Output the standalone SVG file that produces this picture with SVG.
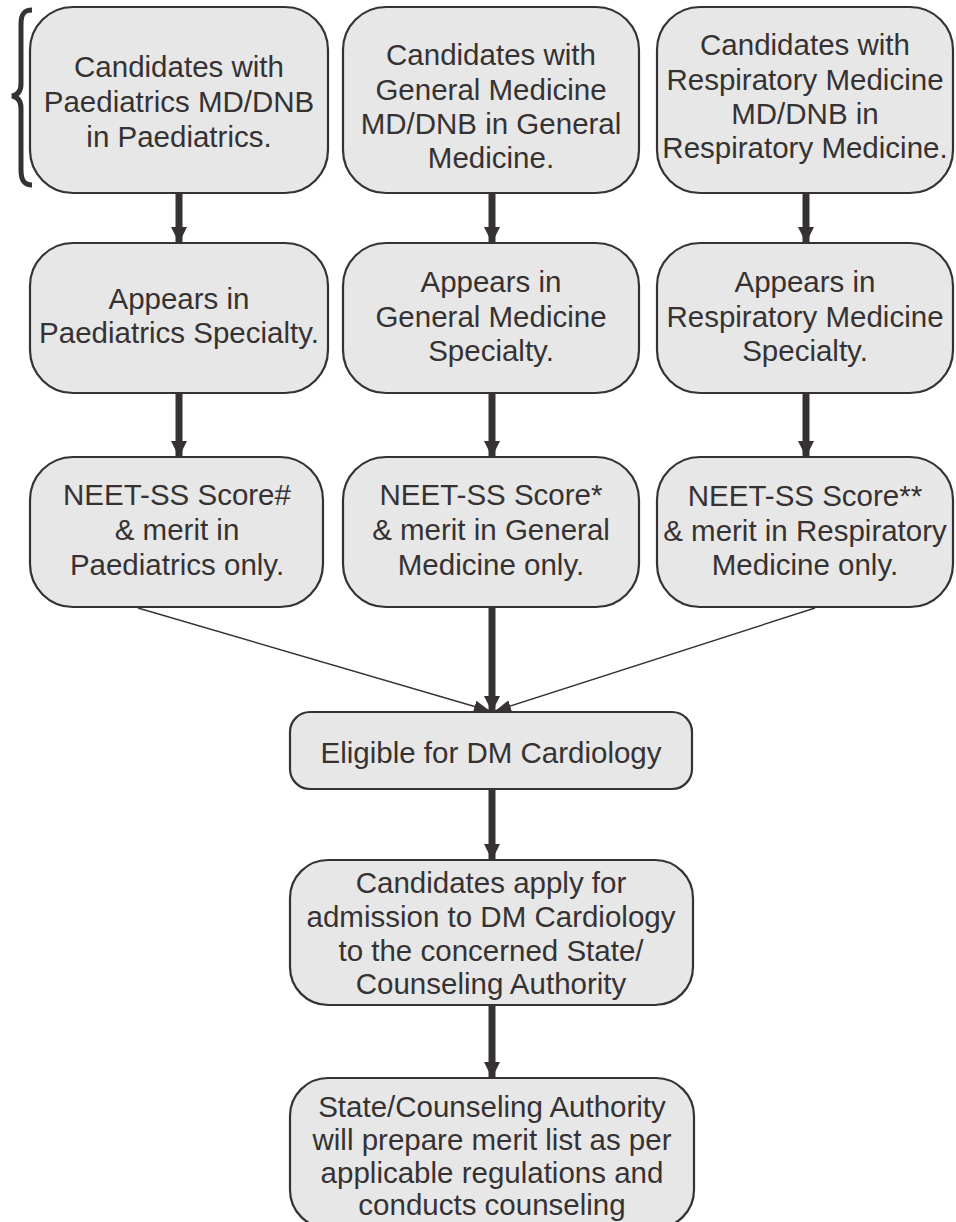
<svg xmlns="http://www.w3.org/2000/svg" width="956" height="1222" viewBox="0 0 956 1222">
<style>
.box{fill:#e6e7e6;stroke:#363233;stroke-width:2.2}
.t{font-family:"Liberation Sans",Arial,sans-serif;font-size:29.5px;fill:#363233;text-anchor:middle}
.thick{stroke:#363233;stroke-width:7;fill:none}
.thin{stroke:#363233;stroke-width:1.4;fill:none}
</style>
<defs>
<marker id="big" markerUnits="userSpaceOnUse" markerWidth="16" markerHeight="18" refX="16" refY="8" orient="auto" viewBox="0 0 16 16">
<path d="M0,0 L16,8 L0,16 Z" fill="#363233"/>
</marker>
<marker id="small" markerUnits="userSpaceOnUse" markerWidth="16" markerHeight="12" refX="16" refY="6" orient="auto" viewBox="0 0 16 12">
<path d="M0,0 L16,6 L0,12 Z" fill="#363233"/>
</marker>
</defs>
<rect width="956" height="1222" fill="#ffffff"/>

<g id="brace">
<path d="M32,10 C24,10 21,14 21,24 L21,84 C21,92 17,95 12,96 C17,97 21,100 21,108 L21,170 C21,180 24,185 32,185" fill="none" stroke="#363233" stroke-width="5"/>
</g>

<g id="connectors">
<line class="thick" x1="179" y1="193" x2="179" y2="243" marker-end="url(#big)"/>
<line class="thick" x1="492" y1="193" x2="492" y2="243" marker-end="url(#big)"/>
<line class="thick" x1="806" y1="193" x2="806" y2="243" marker-end="url(#big)"/>
<line class="thick" x1="179" y1="393" x2="179" y2="457" marker-end="url(#big)"/>
<line class="thick" x1="492" y1="393" x2="492" y2="457" marker-end="url(#big)"/>
<line class="thick" x1="806" y1="393" x2="806" y2="457" marker-end="url(#big)"/>
<line class="thick" x1="492" y1="607" x2="492" y2="712" marker-end="url(#big)"/>
<line class="thin" x1="138" y1="608" x2="490" y2="711" marker-end="url(#small)"/>
<line class="thin" x1="815" y1="608" x2="495" y2="711" marker-end="url(#small)"/>
<line class="thick" x1="492" y1="789" x2="492" y2="860" marker-end="url(#big)"/>
<line class="thick" x1="492" y1="1005" x2="492" y2="1078" marker-end="url(#big)"/>
</g>

<g id="n1">
<rect class="box" x="30" y="7" width="298" height="186" rx="43"/>
<text class="t" x="179" y="77">Candidates with</text>
<text class="t" x="179" y="112">Paediatrics MD/DNB</text>
<text class="t" x="179" y="147">in Paediatrics.</text>
</g>
<g id="n2">
<rect class="box" x="343" y="7" width="296" height="186" rx="43"/>
<text class="t" x="491" y="65">Candidates with</text>
<text class="t" x="491" y="100">General Medicine</text>
<text class="t" x="491" y="134">MD/DNB in General</text>
<text class="t" x="491" y="168">Medicine.</text>
</g>
<g id="n3">
<rect class="box" x="657" y="7" width="296" height="186" rx="43"/>
<text class="t" x="805" y="55">Candidates with</text>
<text class="t" x="805" y="90">Respiratory Medicine</text>
<text class="t" x="805" y="124">MD/DNB in</text>
<text class="t" x="805" y="158">Respiratory Medicine.</text>
</g>

<g id="n4">
<rect class="box" x="30" y="243" width="298" height="150" rx="43"/>
<text class="t" x="179" y="309">Appears in</text>
<text class="t" x="179" y="343">Paediatrics Specialty.</text>
</g>
<g id="n5">
<rect class="box" x="343" y="243" width="296" height="150" rx="43"/>
<text class="t" x="491" y="292">Appears in</text>
<text class="t" x="491" y="327">General Medicine</text>
<text class="t" x="491" y="361">Specialty.</text>
</g>
<g id="n6">
<rect class="box" x="657" y="243" width="296" height="150" rx="43"/>
<text class="t" x="805" y="292">Appears in</text>
<text class="t" x="805" y="327">Respiratory Medicine</text>
<text class="t" x="805" y="361">Specialty.</text>
</g>

<g id="n7">
<rect class="box" x="30" y="457" width="293" height="150" rx="43"/>
<text class="t" x="177" y="505">NEET-SS Score#</text>
<text class="t" x="177" y="540">&amp; merit in</text>
<text class="t" x="177" y="575">Paediatrics only.</text>
</g>
<g id="n8">
<rect class="box" x="343" y="457" width="296" height="150" rx="43"/>
<text class="t" x="491" y="505">NEET-SS Score*</text>
<text class="t" x="491" y="540">&amp; merit in General</text>
<text class="t" x="491" y="575">Medicine only.</text>
</g>
<g id="n9">
<rect class="box" x="657" y="457" width="296" height="150" rx="43"/>
<text class="t" x="805" y="506">NEET-SS Score**</text>
<text class="t" x="805" y="541">&amp; merit in Respiratory</text>
<text class="t" x="805" y="575">Medicine only.</text>
</g>

<g id="n10">
<rect class="box" x="290" y="712" width="402" height="77" rx="20"/>
<text class="t" x="491" y="763">Eligible for DM Cardiology</text>
</g>
<g id="n11">
<rect class="box" x="290" y="860" width="403" height="145" rx="38"/>
<text class="t" x="491" y="893">Candidates apply for</text>
<text class="t" x="491" y="927">admission to DM Cardiology</text>
<text class="t" x="491" y="961">to the concerned State/</text>
<text class="t" x="491" y="994">Counseling Authority</text>
</g>
<g id="n12">
<rect class="box" x="290" y="1078" width="404" height="150" rx="38"/>
<text class="t" x="492" y="1117">State/Counseling Authority</text>
<text class="t" x="492" y="1150">will prepare merit list as per</text>
<text class="t" x="492" y="1183">applicable regulations and</text>
<text class="t" x="492" y="1215">conducts counseling</text>
</g>
</svg>
